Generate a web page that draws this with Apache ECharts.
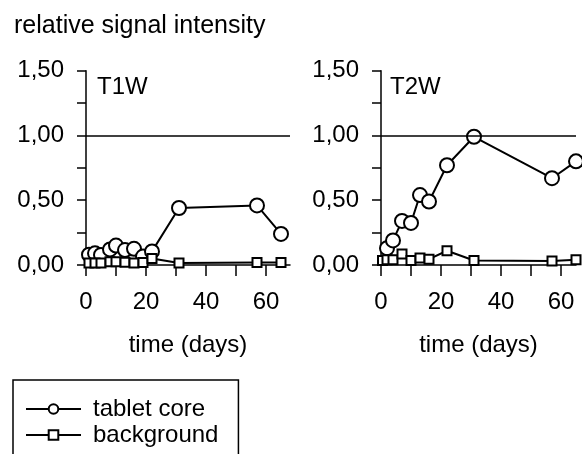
<!DOCTYPE html>
<html>
<head>
<meta charset="utf-8">
<script src="https://cdn.jsdelivr.net/npm/echarts@6/dist/echarts.min.js"></script>
<style>
html,body{margin:0;padding:0;background:#fff;}
#chart{width:582px;height:454px;}
</style>
</head>
<body>
<div id="chart"></div>
<script>
// ---- data ----
var t1Days = [1, 3, 5, 8, 10, 13, 16, 19, 22, 31, 57, 65];
var t1Core = [0.08, 0.09, 0.077, 0.12, 0.15, 0.115, 0.125, 0.065, 0.105, 0.44, 0.46, 0.24];
var t1Background = [0.015, 0.015, 0.015, 0.025, 0.025, 0.022, 0.016, 0.02, 0.05, 0.015, 0.02, 0.02];

var t2Days = [0.5, 2, 4, 7, 10, 13, 16, 22, 31, 57, 65];
var t2Core = [0.10, 0.13, 0.19, 0.34, 0.325, 0.54, 0.49, 0.77, 0.99, 0.67, 0.80];
var t2Background = [0.035, 0.04, 0.04, 0.085, 0.035, 0.055, 0.045, 0.11, 0.035, 0.03, 0.04];

var panelLabels = ['T1W', 'T2W'];
var seriesNames = ['tablet core', 'background'];
var yLabelValues = [0, 0.5, 1, 1.5];
var xLabelValues = [0, 20, 40, 60];
var xTickValues = [0, 10, 20, 30, 40, 50, 60];
var refLevel = 1.0;

function pairs(xs, ys, hideFirst) {
  return xs.map(function (x, i) {
    var item = { value: [x, ys[i]] };
    if (hideFirst && i === 0) { item.symbol = 'none'; }
    return item;
  });
}

var FONT = 'Liberation Sans, Arial, Helvetica, sans-serif';
var FS = 24;
var BLACK = '#000';

function xAxisCfg(idx, max) {
  return {
    type: 'value', gridIndex: idx, min: 0, max: max,
    name: 'time (days)', nameLocation: 'middle', nameGap: 68,
    nameTextStyle: { fontFamily: FONT, fontSize: FS, color: BLACK },
    axisLine: { show: true, onZero: false, lineStyle: { color: BLACK, width: 1.5 } },
    axisTick: { show: true, inside: false, length: 11, customValues: xTickValues, lineStyle: { color: BLACK, width: 1.5 } },
    axisLabel: { customValues: xLabelValues, margin: 25, fontFamily: FONT, fontSize: FS, color: BLACK },
    splitLine: { show: false }
  };
}
function yAxisCfg(idx) {
  return {
    type: 'value', gridIndex: idx, min: 0, max: 1.5, interval: 0.25,
    axisLine: { show: true, onZero: false, lineStyle: { color: BLACK, width: 1.5 } },
    axisTick: { show: true, inside: false, length: 9, lineStyle: { color: BLACK, width: 1.5 } },
    axisLabel: {
      customValues: yLabelValues, margin: 22, fontFamily: FONT, fontSize: FS, color: BLACK,
      formatter: function (v) { return v.toFixed(2).replace('.', ','); }
    },
    splitLine: { show: false }
  };
}
function coreSeries(idx, days, vals, hideFirst) {
  return {
    name: seriesNames[0], type: 'line', xAxisIndex: idx, yAxisIndex: idx,
    data: pairs(days, vals, hideFirst), symbol: 'emptyCircle', symbolSize: 14,
    itemStyle: { color: BLACK, borderWidth: 1.5 },
    lineStyle: { color: BLACK, width: 2 }, z: 3, animation: false,
    markLine: {
      silent: true, symbol: ['none', 'none'], label: { show: false },
      lineStyle: { color: BLACK, width: 1.5, type: 'solid' },
      data: [{ yAxis: refLevel }], animation: false
    }
  };
}
function bgSeries(idx, days, vals) {
  return {
    name: seriesNames[1], type: 'line', xAxisIndex: idx, yAxisIndex: idx,
    data: pairs(days, vals, false), symbol: 'emptyRect', symbolSize: 9,
    itemStyle: { color: BLACK, borderWidth: 1.5 },
    lineStyle: { color: BLACK, width: 2 }, z: 4, animation: false
  };
}

var chart = echarts.init(document.getElementById('chart'), null, { renderer: 'canvas' });
chart.setOption({
  backgroundColor: '#fff',
  animation: false,
  title: [
    { text: 'relative signal intensity', left: 9, top: 9,
      textStyle: { fontFamily: FONT, fontSize: 25, fontWeight: 'normal', color: BLACK } },
    { text: panelLabels[0], left: 97, top: 75, padding: 0,
      textStyle: { fontFamily: FONT, fontSize: FS, fontWeight: 'normal', color: BLACK } },
    { text: panelLabels[1], left: 390, top: 75, padding: 0,
      textStyle: { fontFamily: FONT, fontSize: FS, fontWeight: 'normal', color: BLACK } }
  ],
  grid: [
    { left: 86, top: 70.7, width: 204, height: 194.3 },
    { left: 381, top: 70.7, width: 195, height: 194.3 }
  ],
  xAxis: [xAxisCfg(0, 68), xAxisCfg(1, 65)],
  yAxis: [yAxisCfg(0), yAxisCfg(1)],
  legend: {
    orient: 'vertical', left: 13, top: 380, height: 120, width: 260,
    data: seriesNames,
    itemWidth: 55, itemHeight: 12, itemGap: 2,
    padding: [17, 20, 24, 12],
    borderColor: BLACK, borderWidth: 1.5, borderRadius: 0,
    textStyle: { fontFamily: FONT, fontSize: FS, color: BLACK, padding: [0, 0, 0, 7] },
    selectedMode: false
  },
  series: [
    coreSeries(0, t1Days, t1Core, false),
    bgSeries(0, t1Days, t1Background),
    coreSeries(1, t2Days, t2Core, true),
    bgSeries(1, t2Days, t2Background)
  ]
});
</script>
</body>
</html>
